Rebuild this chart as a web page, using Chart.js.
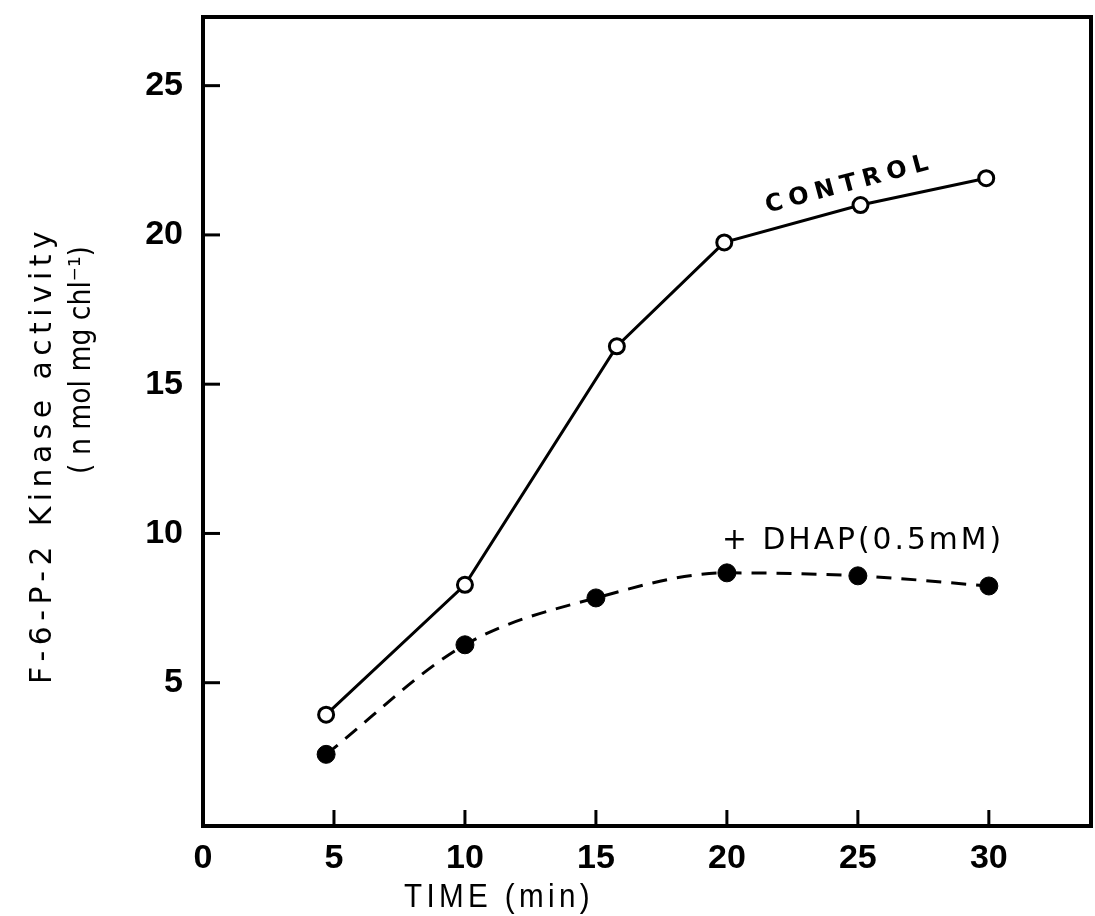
<!DOCTYPE html>
<html>
<head>
<meta charset="utf-8">
<script src="https://cdn.jsdelivr.net/npm/chart.js@4/dist/chart.umd.min.js"></script>
<style>
html,body{margin:0;padding:0;background:#fff;}
#wrap{width:1095px;height:916px;}
</style>
</head>
<body>
<div id="wrap"><canvas id="c" width="1095" height="916"></canvas></div>
<script>
// ---- data ----
const timeControl = [4.7, 10, 15.8, 19.9, 25.1, 29.9];
const controlValues = [3.93, 8.28, 16.27, 19.75, 21.0, 21.9];
const timeDhap = [4.7, 10, 15, 20, 25, 30];
const dhapValues = [2.6, 6.27, 7.84, 8.68, 8.58, 8.24];
const xTickValues = [0, 5, 10, 15, 20, 25, 30];
const yTickValues = [5, 10, 15, 20, 25];
const controlLabel = 'CONTROL';
const dhapLabel = '+ DHAP(0.5mM)';
const xTitle = 'TIME (min)';
const yTitleLine1 = 'F-6-P-2 Kinase activity';
const yTitleLine2 = '( n mol mg chl\u207B\u00B9)';

const TICKFONT = "'Liberation Sans', 'DejaVu Sans', sans-serif";
const SANS = "'DejaVu Sans', 'Liberation Sans', sans-serif";

const pts = (xs, ys) => xs.map((x, i) => ({x: x, y: ys[i]}));

const decor = {
  id: 'decor',
  afterDraw(chart) {
    const ctx = chart.ctx;
    const a = chart.chartArea;
    const xs = chart.scales.x, ys = chart.scales.y;
    ctx.save();
    ctx.strokeStyle = '#000';
    ctx.lineCap = 'square';
    // frame
    ctx.lineWidth = 4;
    ctx.strokeRect(a.left, a.top, a.right - a.left, a.bottom - a.top);
    // inward ticks
    ctx.lineWidth = 3;
    ctx.lineCap = 'butt';
    xTickValues.forEach(v => {
      if (v === 0) return;
      const px = xs.getPixelForValue(v);
      ctx.beginPath(); ctx.moveTo(px, a.bottom); ctx.lineTo(px, a.bottom - 16); ctx.stroke();
    });
    yTickValues.forEach(v => {
      const py = ys.getPixelForValue(v);
      ctx.beginPath(); ctx.moveTo(a.left, py); ctx.lineTo(a.left + 17, py); ctx.stroke();
    });
    ctx.fillStyle = '#000';
    ctx.textAlign = 'center';
    ctx.textBaseline = 'middle';
    // x title
    ctx.font = "34px " + TICKFONT;
    ctx.letterSpacing = '5px';
    ctx.fillText(xTitle, xs.getPixelForValue(11.3), 898, 190);
    // y titles
    ctx.save();
    ctx.translate(43, 455);
    ctx.rotate(-Math.PI / 2);
    ctx.font = "30px " + SANS;
    ctx.letterSpacing = '5.5px';
    ctx.fillText(yTitleLine1, 0, 0, 458);
    ctx.restore();
    ctx.save();
    ctx.translate(82, 360);
    ctx.rotate(-Math.PI / 2);
    ctx.font = "30px " + SANS;
    ctx.letterSpacing = '0px';
    ctx.fillText(yTitleLine2, 0, 0, 228);
    ctx.restore();
    // annotations
    ctx.save();
    ctx.translate(xs.getPixelForValue(24.7), ys.getPixelForValue(21.7));
    ctx.rotate(-15 * Math.PI / 180);
    ctx.font = "bold 24px " + SANS;
    ctx.letterSpacing = '6.5px';
    ctx.fillText(controlLabel, 0, 0);
    ctx.restore();
    ctx.font = "30px " + SANS;
    ctx.letterSpacing = '3px';
    ctx.fillText(dhapLabel, xs.getPixelForValue(25.2), ys.getPixelForValue(9.75), 282);
    ctx.restore();
  }
};

new Chart(document.getElementById('c'), {
  type: 'line',
  data: {
    datasets: [
      {
        label: controlLabel,
        data: pts(timeControl, controlValues),
        borderColor: '#000',
        borderWidth: 3,
        pointRadius: 7.5,
        pointBorderWidth: 3,
        pointBackgroundColor: '#fff',
        pointBorderColor: '#000',
        tension: 0
      },
      {
        label: dhapLabel,
        data: pts(timeDhap, dhapValues),
        borderColor: '#000',
        borderWidth: 3,
        borderDash: [15, 10],
        pointRadius: 9,
        pointBorderWidth: 1,
        pointBackgroundColor: '#000',
        pointBorderColor: '#000',
        cubicInterpolationMode: 'monotone'
      }
    ]
  },
  options: {
    responsive: false,
    animation: false,
    layout: {autoPadding: false, padding: {top: 17, right: 4, left: 0, bottom: 0}},
    plugins: {legend: {display: false}, tooltip: {enabled: false}},
    scales: {
      x: {
        type: 'linear',
        min: 0, max: 33.9,
        afterBuildTicks: s => { s.ticks = xTickValues.map(v => ({value: v})); },
        afterFit: s => { s.height = 90; s.paddingLeft = 0; s.paddingRight = 0; },
        grid: {display: false, drawTicks: false},
        border: {display: false},
        ticks: {
          color: '#000',
          padding: 12,
          maxRotation: 0,
          font: {family: TICKFONT, size: 34, weight: 'bold'},
          callback: v => String(v)
        }
      },
      y: {
        type: 'linear',
        min: 0.2, max: 27.3,
        afterBuildTicks: s => { s.ticks = yTickValues.map(v => ({value: v})); },
        afterFit: s => { s.width = 203; s.paddingTop = 0; s.paddingBottom = 0; },
        grid: {display: false, drawTicks: false},
        border: {display: false},
        ticks: {
          color: '#000',
          padding: 20,
          font: {family: TICKFONT, size: 34, weight: 'bold'},
          callback: v => String(v)
        }
      }
    }
  },
  plugins: [decor]
});
</script>
</body>
</html>
